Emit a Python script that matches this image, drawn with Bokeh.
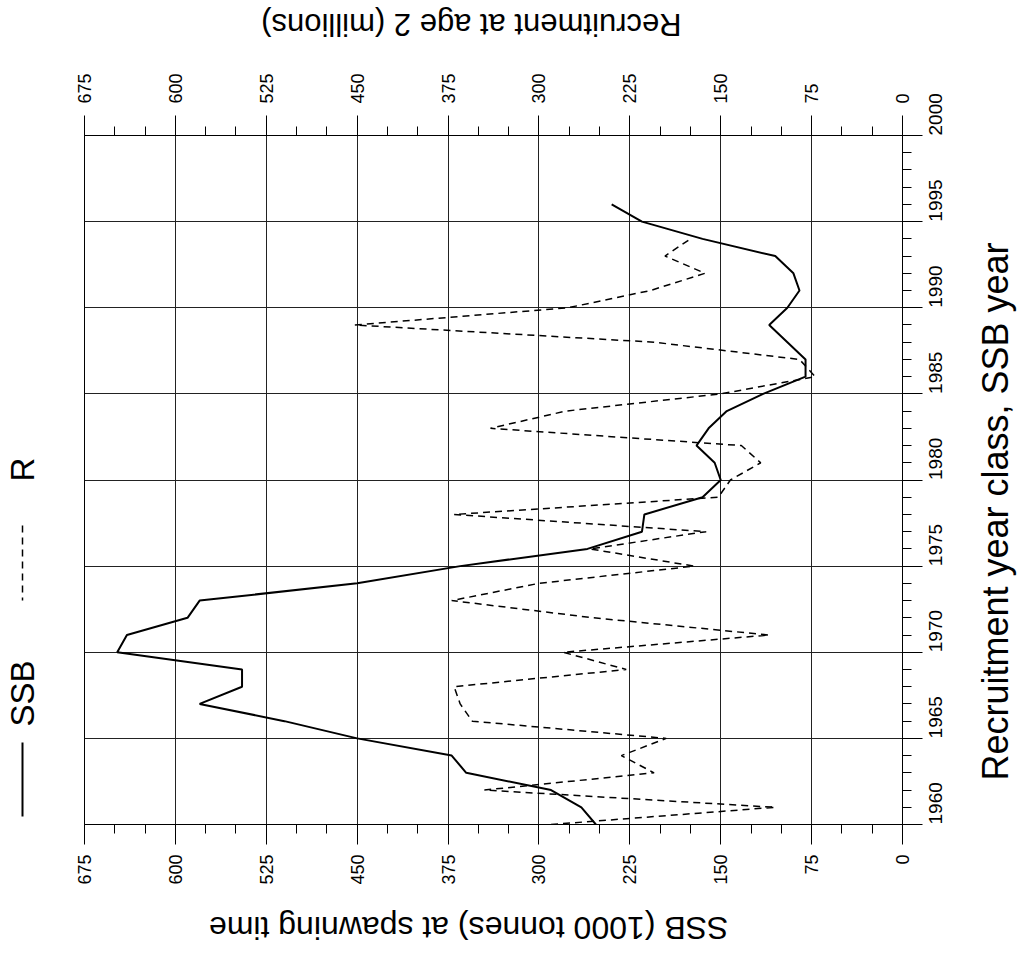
import math
from bokeh.plotting import figure
from bokeh.layouts import row, column
from bokeh.models import Range1d, LinearAxis, SingleIntervalTicker
from bokeh.core.properties import value
from bokeh.embed import file_html
from bokeh.resources import INLINE

# ---- data ----
ssb_years = list(range(1960, 1997))
ssb = [253, 265, 290, 360, 372, 450, 510, 580, 545, 545,
       648, 640, 590, 580, 450, 365, 260, 215, 213, 165,
       150, 155, 170, 160, 145, 115, 80, 80, 95, 110,
       95, 85, 90, 105, 165, 215, 240]

rec_years = list(range(1960, 1995))
rec = [290, 105, 345, 205, 232, 195, 355, 365, 370, 228,
       280, 110, 255, 372, 300, 172, 258, 162, 370, 152,
       142, 117, 133, 340, 278, 150, 72, 85, 205, 452,
       276, 208, 163, 196, 175]

legend_labels = ["SSB", "R"]
bottom_title = ["SSB (1000 tonnes) at spawning time"]
top_title = ["Recruitment at age 2 (millions)"]
right_title = ["Recruitment year class, SSB year"]

FONT = "Liberation Sans"

# layout sizes (pixels)
LEFT_W, MID_W, RIGHT_W = 72, 888, 60
TOP_H, P_H, BOT_H = 50, 837, 58
TOTAL_H = TOP_H + P_H + BOT_H


def strip(w, h):
    f = figure(width=w, height=h, x_range=Range1d(0, w), y_range=Range1d(h, 0),
               x_axis_type=None, y_axis_type=None,
               output_backend="svg", toolbar_location=None,
               min_border_left=0, min_border_right=0, min_border_top=0, min_border_bottom=0)
    f.grid.visible = False
    f.outline_line_color = None
    return f


# ---- main plot ----
p = figure(width=MID_W, height=P_H, x_range=Range1d(675, 0), y_range=Range1d(1960, 2000),
           output_backend="svg", toolbar_location=None,
           x_axis_location="below", y_axis_location="right",
           min_border_left=12, min_border_top=85, min_border_right=58, min_border_bottom=62)
p.extra_x_ranges = {"rec": Range1d(675, 0)}
p.outline_line_color = "black"
p.outline_line_width = 1


def style_axis(ax, orient, standoff, fs):
    ax.axis_line_color = "black"
    ax.major_tick_in = 0
    ax.major_tick_out = 20
    ax.minor_tick_in = 0
    ax.minor_tick_out = 9
    ax.major_tick_line_color = "black"
    ax.minor_tick_line_color = "black"
    ax.major_label_orientation = orient
    ax.major_label_standoff = standoff
    ax.major_label_text_font = FONT
    ax.major_label_text_font_size = fs
    ax.major_label_text_color = "black"


bottom = p.xaxis[0]
bottom.ticker = SingleIntervalTicker(interval=75, num_minor_ticks=3)
style_axis(bottom, math.pi / 2, 10, "18px")

top = LinearAxis(x_range_name="rec", ticker=SingleIntervalTicker(interval=75, num_minor_ticks=3))
style_axis(top, math.pi / 2, 12, "18px")
p.add_layout(top, "above")

right = p.yaxis[0]
right.ticker = SingleIntervalTicker(interval=5, num_minor_ticks=5)
style_axis(right, math.pi / 2, 13, "19px")

p.xgrid.ticker = SingleIntervalTicker(interval=75)
p.ygrid.ticker = SingleIntervalTicker(interval=5)
p.xgrid.grid_line_color = "#222222"
p.ygrid.grid_line_color = "#222222"
p.xgrid.grid_line_width = 1
p.ygrid.grid_line_width = 1

p.line(ssb, ssb_years, line_color="black", line_width=2)
p.line(rec, rec_years, x_range_name="rec", line_color="black", line_width=1.5, line_dash="7 5")

# ---- legend strip (left) ----
lg = strip(LEFT_W, TOTAL_H)
lg.line([22, 22], [742, 816], line_color="black", line_width=2)
lg.line([22, 22], [525, 600], line_color="black", line_width=1.5, line_dash="7 5")
lg.text([22, 22], [693, 469], text=legend_labels, angle=math.pi / 2,
        text_align="center", text_baseline="middle", text_font=value(FONT),
        text_font_size="33px", text_color="black")

# ---- title strips ----
tt = strip(MID_W, TOP_H)
tt.text([420], [24], text=top_title, angle=math.pi,
        text_align="center", text_baseline="middle", text_font=value(FONT),
        text_font_size="31px", text_color="black")

bt = strip(MID_W, BOT_H)
bt.text([417], [40], text=bottom_title, angle=math.pi,
        text_align="center", text_baseline="middle", text_font=value(FONT),
        text_font_size="32px", text_color="black")

rt = strip(RIGHT_W, TOTAL_H)
rt.text([35], [511], text=right_title, angle=math.pi / 2,
        text_align="center", text_baseline="middle", text_font=value(FONT),
        text_font_size="36px", text_color="black")

layout = row(lg, column(tt, p, bt), rt)
open("out.html", "w").write(file_html(layout, INLINE))
